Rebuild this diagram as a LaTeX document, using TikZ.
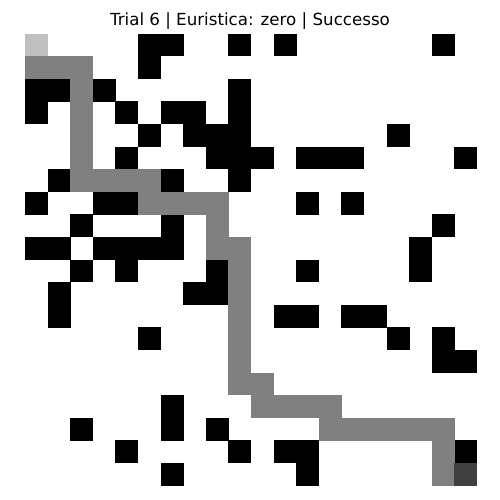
\documentclass[tikz,border=0pt]{standalone}
\usepackage{fontspec}
\setmainfont{DejaVu Sans}
\definecolor{wall}{RGB}{0,0,0}
\definecolor{pathc}{RGB}{128,128,128}
\definecolor{startc}{RGB}{192,192,192}
\definecolor{goalc}{RGB}{64,64,64}
\begin{document}
\begin{tikzpicture}[x=0.72pt,y=-0.72pt,
  cellw/.style={fill=wall},
  cellp/.style={fill=pathc},
  title/.style={anchor=base,font=\fontsize{12}{14}\selectfont}]
\useasboundingbox[fill=white] (0,0) rectangle (500,500);
\def\ox{25}\def\oy{33.5}\def\cs{22.6}
\newcommand{\mycell}[3]{\fill[#3] ({\ox+\cs*#1},{\oy+\cs*#2}) rectangle ({\ox+\cs*(#1+1)+0.3},{\oy+\cs*(#2+1)+0.3});}
% walls
\foreach \c/\r in {5/0,6/0,9/0,11/0,18/0,
  5/1,
  0/2,1/2,3/2,9/2,
  0/3,4/3,6/3,7/3,9/3,
  5/4,7/4,8/4,9/4,16/4,
  4/5,8/5,9/5,10/5,12/5,13/5,14/5,19/5,
  1/6,6/6,9/6,
  0/7,3/7,4/7,12/7,14/7,
  2/8,6/8,18/8,
  0/9,1/9,3/9,4/9,5/9,6/9,17/9,
  2/10,4/10,8/10,12/10,17/10,
  1/11,7/11,8/11,
  1/12,11/12,12/12,14/12,15/12,
  5/13,16/13,18/13,
  18/14,19/14,
  6/16,
  2/17,6/17,8/17,
  4/18,9/18,11/18,12/18,19/18,
  6/19,12/19}
  {\mycell{\c}{\r}{cellw}}
% path
\foreach \c/\r in {0/1,1/1,2/1,2/2,2/3,2/4,2/5,
  2/6,3/6,4/6,5/6,
  5/7,6/7,7/7,8/7,
  8/8,8/9,9/9,
  9/10,9/11,9/12,9/13,9/14,
  9/15,10/15,
  10/16,11/16,12/16,13/16,
  13/17,14/17,15/17,16/17,17/17,18/17,
  18/18,18/19}
  {\mycell{\c}{\r}{cellp}}
\mycell{0}{0}{fill=startc}
\mycell{19}{19}{fill=goalc}
\node[title] (t) at (250,25.2) {Trial 6 | Euristica: zero | Successo};
\end{tikzpicture}
\end{document}
